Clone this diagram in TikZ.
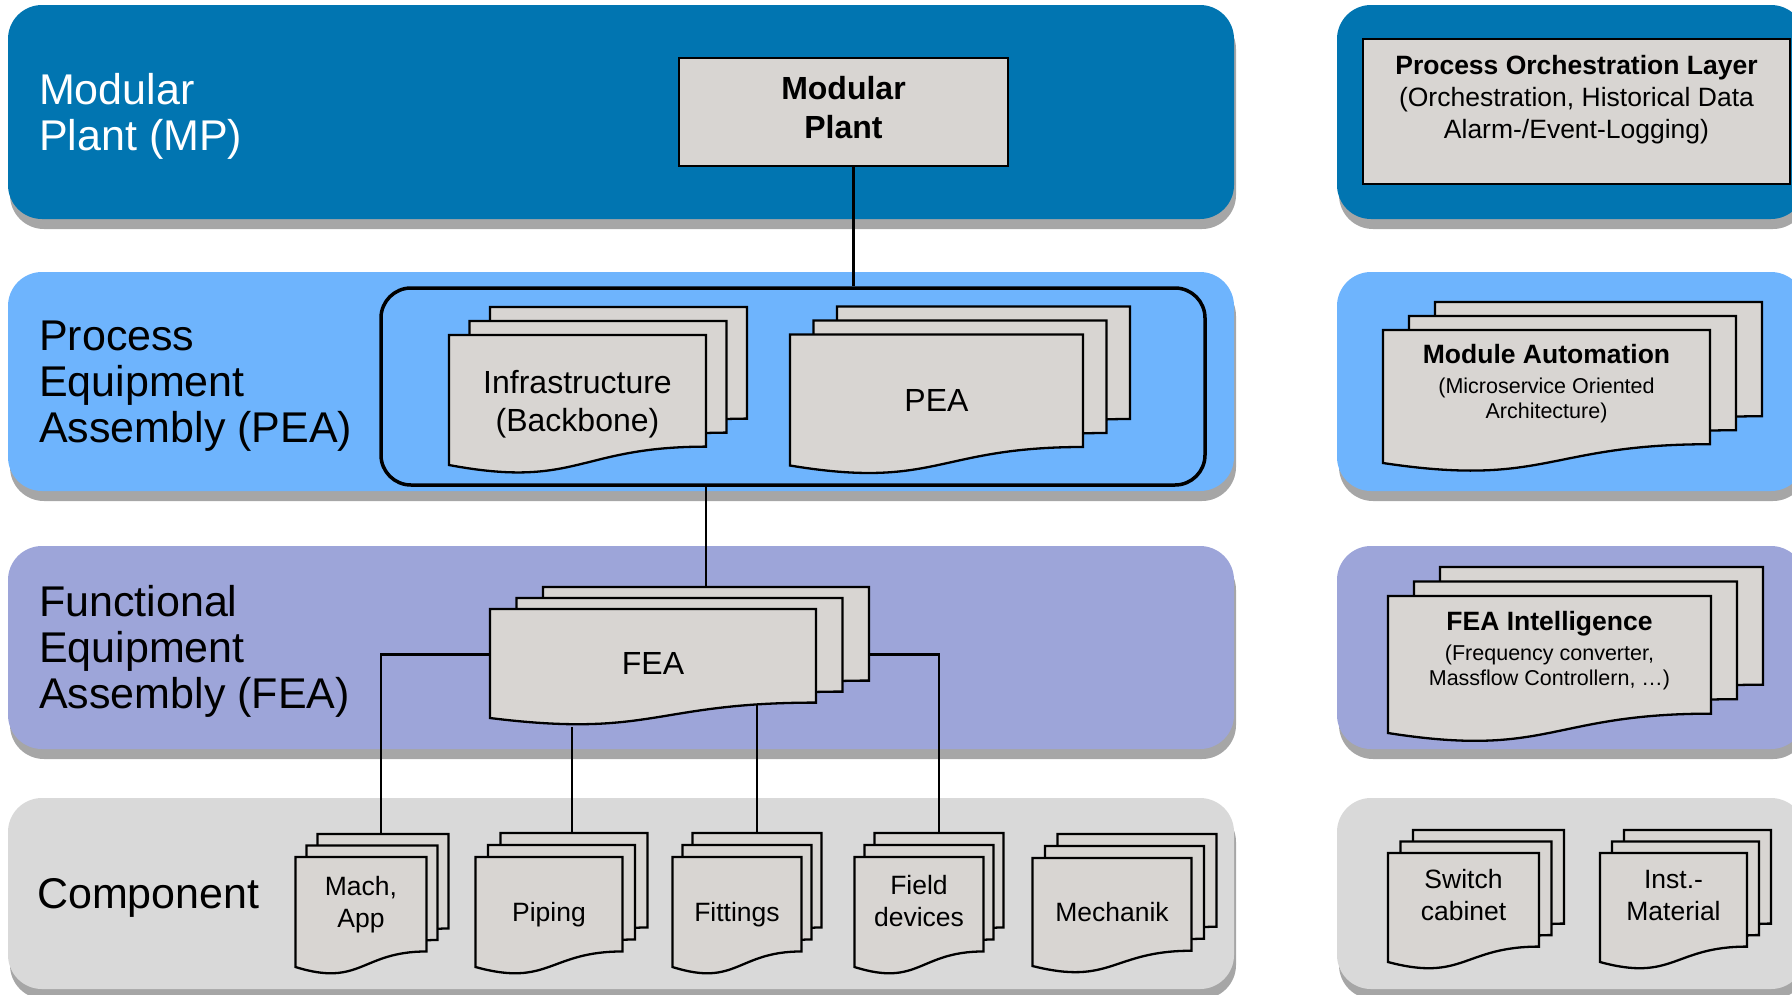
\documentclass[tikz,border=0pt]{standalone}
\usepackage{fontspec}
\setmainfont{Liberation Sans}
\usetikzlibrary{positioning,shadows}

\definecolor{mpblue}{RGB}{1,117,177}
\definecolor{peablue}{RGB}{110,180,253}
\definecolor{fealila}{RGB}{157,165,217}
\definecolor{compgray}{RGB}{217,217,217}
\definecolor{bandshadow}{RGB}{166,166,166}
\definecolor{docgray}{RGB}{216,213,210}

\makeatletter
% flow chart document: flat top, wavy bottom
\pgfdeclareshape{document}{
  \inheritsavedanchors[from=rectangle]
  \inheritanchorborder[from=rectangle]
  \inheritanchor[from=rectangle]{center}
  \inheritanchor[from=rectangle]{north}
  \inheritanchor[from=rectangle]{south}
  \inheritanchor[from=rectangle]{east}
  \inheritanchor[from=rectangle]{west}
  \inheritanchor[from=rectangle]{north east}
  \inheritanchor[from=rectangle]{north west}
  \inheritanchor[from=rectangle]{south east}
  \inheritanchor[from=rectangle]{south west}
  \inheritanchor[from=rectangle]{text}
  \inheritanchor[from=rectangle]{mid}
  \inheritanchor[from=rectangle]{base}
  \backgroundpath{
    \southwest \edef\docxl{\the\pgf@x}\edef\docyb{\the\pgf@y}
    \northeast \edef\docxr{\the\pgf@x}\edef\docyt{\the\pgf@y}
    \pgfmathsetmacro\dochh{\docyt-\docyb}
    \pgfmathsetmacro\docxm{0.5*(\docxl+\docxr)}
    \pgfmathsetmacro\docyr{\docyb+0.1413*\dochh}
    \pgfmathsetmacro\docyc{\docyb-0.1858*\dochh}
    \pgfpathmoveto{\pgfpoint{\docxl}{\docyt}}
    \pgfpathlineto{\pgfpoint{\docxr}{\docyt}}
    \pgfpathlineto{\pgfpoint{\docxr}{\docyr pt}}
    \pgfpathcurveto{\pgfpoint{\docxm pt}{\docyr pt}}{\pgfpoint{\docxm pt}{\docyc pt}}{\pgfpoint{\docxl}{\docyb}}
    \pgfpathclose
  }
}
\makeatother

\begin{document}
\begin{tikzpicture}[x=1pt,y=-1pt,line width=2.3pt,node distance=50pt,
    band/.style={rounded corners=34pt,fill=#1,inner sep=0pt,
      general shadow={fill=bandshadow,shadow xshift=2pt,shadow yshift=-10pt}},
    layer/.style={anchor=west,align=left,inner sep=0pt,font=\fontsize{43}{46}\selectfont},
    docstack/.style n args={2}{shape=document,draw,fill=docgray,inner sep=0pt,outer sep=0pt,align=center,
      copy shadow={shadow xshift=2*#1pt,shadow yshift=2*#2pt},
      copy shadow={shadow xshift=#1pt,shadow yshift=#2pt}},
    bigtext/.style={align=center,inner sep=0pt,font=\fontsize{32}{38}\selectfont},
    comptext/.style={align=center,inner sep=0pt,font=\fontsize{26.5}{32}\selectfont},
    infotext/.style={align=center,inner sep=0pt,font=\fontsize{21.5}{25}\selectfont},
    link/.style={line width=2.5pt}]
  \useasboundingbox (0,0) rectangle (1792,994);

  %layer bands left
  \node[band=mpblue,minimum width=1226pt,minimum height=214pt] (mp_band) at (621,112) {};
  \node[band=peablue,minimum width=1226pt,minimum height=219pt] (pea_band) at (621,381.5) {};
  \node[band=fealila,minimum width=1226pt,minimum height=203pt] (fea_band) at (621,647.5) {};
  \node[band=compgray,minimum width=1226pt,minimum height=191pt] (comp_band) at (621,893.5) {};

  %layer bands right
  \node[band=mpblue,minimum width=468pt,minimum height=214pt] (pol_band) at (1571,112) {};
  \node[band=peablue,minimum width=468pt,minimum height=219pt] (ma_band) at (1571,381.5) {};
  \node[band=fealila,minimum width=468pt,minimum height=203pt] (fi_band) at (1571,647.5) {};
  \node[band=compgray,minimum width=468pt,minimum height=191pt] (hw_band) at (1571,893.5) {};

  %layer names
  \node[layer,text=white] (mp_label) at (38,116) {Modular\\Plant (MP)};
  \node[layer] (pea_label) at (38,386) {Process\\Equipment\\Assembly (PEA)};
  \node[layer] (fea_label) at (38,651) {Functional\\Equipment\\Assembly (FEA)};
  \node[layer] (comp_label) at (36,898) {Component};

  %plant row
  \node[draw,fill=docgray,minimum width=329pt,minimum height=108pt] (mp_box) at (843.5,112) {};
  \node[bigtext,font=\fontsize{32}{39}\selectfont\bfseries] (mp_text) at ([yshift=4.5pt]mp_box.center) {Modular\\Plant};

  %pea row
  \node[draw,line width=3.5pt,rounded corners=30pt,minimum width=824pt,minimum height=197pt] (pea_group) at (793,386.5) {};
  \node[docstack={20.5}{14},minimum width=257pt,minimum height=130pt] (infra) at (577.5,400) {};
  \node[bigtext] (infra_text) at ([yshift=-4.5pt]infra.center) {Infrastructure\\(Backbone)};
  \node[docstack={23.5}{14},bigtext,minimum width=293pt,minimum height=131pt] (pea) [right=84pt of infra] {PEA};

  %fea row
  \node[docstack={26.5}{11},bigtext,minimum width=326pt,minimum height=109pt] (fea) at (653,663.5) {FEA};

  %component row
  \node[docstack={11}{11.5},minimum width=131pt,minimum height=110pt] (mach) at (361,912) {};
  \node[comptext] (mach_text) at ([yshift=7pt]mach.center) {Mach,\\App};
  \node[docstack={12.5}{12},comptext,text depth=0pt,minimum width=147pt,minimum height=110pt] (piping) [right=49pt of mach] {Piping};
  \node[docstack={10}{12},comptext,text depth=0pt,minimum width=129pt,minimum height=110pt] (fittings) [right=of piping] {Fittings};
  \node[docstack={10}{12},minimum width=129pt,minimum height=110pt] (field) [right=53pt of fittings] {};
  \node[comptext] (field_text) at ([yshift=10.5pt]field.center) {Field\\devices};
  \node[docstack={12.5}{12},comptext,minimum width=159pt,minimum height=108pt] (mechanik) [right=49pt of field] {Mechanik};

  %right column
  \node[draw,fill=docgray,minimum width=427pt,minimum height=145pt] (pol_box) at (1576.5,111.5) {};
  \node[comptext] (pol_text) at ([yshift=12pt]pol_box.center)
    {\textbf{Process Orchestration Layer}\\(Orchestration, Historical Data\\Alarm-/Event-Logging)};

  \node[docstack={26}{14},minimum width=327pt,minimum height=133pt] (ma) at (1546.5,396.5) {};
  \node[infotext] (ma_text) at ([yshift=12.5pt]ma.center)
    {{\fontsize{26.5}{30}\selectfont\bfseries Module Automation}\\[5pt](Microservice Oriented\\Architecture)};

  \node[docstack={26}{14.5},minimum width=323pt,minimum height=137pt] (fea_int) at (1549.5,664.5) {};
  \node[infotext] (fea_int_text) at ([yshift=13.5pt]fea_int.center)
    {{\fontsize{26.5}{30}\selectfont\bfseries FEA Intelligence}\\[5pt](Frequency converter,\\Massflow Controllern, …)};

  \node[docstack={12.5}{11.5},minimum width=151pt,minimum height=109pt] (switch_cab) at (1463.5,907.5) {};
  \node[comptext] (switch_text) at ([yshift=12pt]switch_cab.center) {Switch\\cabinet};
  \node[docstack={12}{11.5},minimum width=147pt,minimum height=109pt] (inst_mat) [right=61pt of switch_cab] {};
  \node[comptext] (inst_text) at ([yshift=12pt]inst_mat.center) {Inst.-\\Material};

  %connectors
  \coordinate (fea_top) at ([xshift=53pt,yshift=22pt]fea.north);
  \coordinate (mach_top) at ([xshift=20pt,yshift=23pt]mach.north);
  \coordinate (piping_top) at ([xshift=23pt,yshift=24pt]piping.north);
  \coordinate (fittings_top) at ([xshift=20pt,yshift=24pt]fittings.north);
  \coordinate (field_top) at ([xshift=20pt,yshift=24pt]field.north);

  \draw[link] ([xshift=10pt]mp_box.south) -- ([xshift=10pt]mp_box.south |- pea_group.north);
  \draw[link] (fea_top |- pea_group.south) -- (fea_top);
  \draw[link] ([yshift=9pt]fea.west) -| (mach_top);
  \draw[link] ([yshift=-9pt]fea.south -| piping_top) -- (piping_top);
  \draw[link] ([yshift=14pt]fea.south -| fittings_top) -- (fittings_top);
  \draw[link] ([xshift=53pt,yshift=9pt]fea.east) -| (field_top);
\end{tikzpicture}
\end{document}
